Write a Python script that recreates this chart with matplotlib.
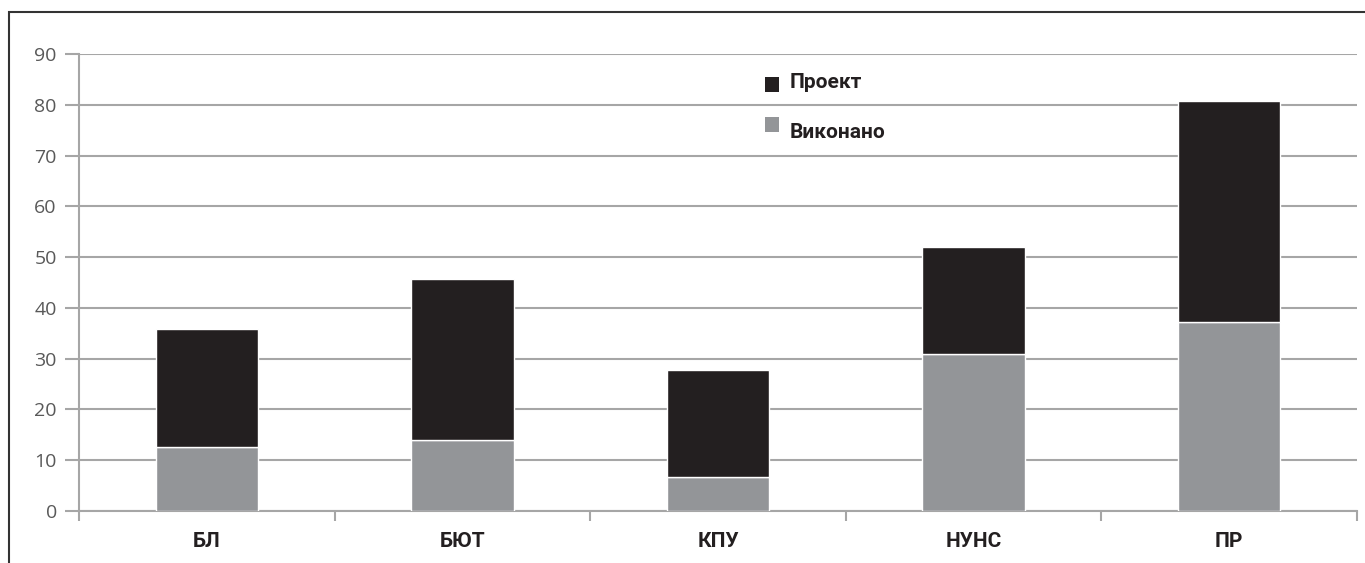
import matplotlib
matplotlib.use("Agg")
import matplotlib.pyplot as plt
from matplotlib.patches import Rectangle
import numpy as np

categories = ["БЛ", "БЮТ", "КПУ", "НУНС", "ПР"]
vykonano = [12.6, 14.0, 6.7, 30.9, 37.3]
proekt = [23.2, 31.7, 21.1, 21.1, 43.5]
yticks = [0, 10, 20, 30, 40, 50, 60, 70, 80, 90]

BLACK = "#231f20"
GRAY = "#939598"
GRID = "#a6a6a6"
TICKCOL = "#595959"
cond = ["Roboto", "DejaVu Sans"]

fig = plt.figure(figsize=(13.65, 5.63), dpi=100)
ax = fig.add_axes([79/1365, 52/563, (1357-79)/1365, (511-54)/563])

x = np.arange(len(categories))
ax.bar(x, vykonano, width=0.4, color=GRAY, edgecolor="white", linewidth=1.0, zorder=3)
ax.bar(x, proekt, width=0.4, bottom=vykonano, color=BLACK, edgecolor="white", linewidth=1.0, zorder=3)

ax.set_xlim(-0.5, len(categories) - 0.5)
ax.set_ylim(0, 90)
ax.set_yticks(yticks)
ax.set_yticklabels([str(v) for v in yticks], family=["Open Sans", "DejaVu Sans"], fontsize=14, color=TICKCOL)
ax.yaxis.grid(True, color=GRID, linewidth=1.5, zorder=0)
ax.set_axisbelow(True)

ax.set_xticks(x)
ax.set_xticklabels(categories, family=cond, fontweight="bold", fontsize=15, color=BLACK)
ax.set_xticks(np.arange(-0.5, len(categories), 1.0), minor=True)
ax.tick_params(axis="x", which="major", length=0, pad=15)
ax.tick_params(axis="x", which="minor", length=7, width=1.5, color=GRID)
ax.tick_params(axis="y", which="major", length=10, width=1.5, color=GRID, pad=6)

for s in ["top", "right"]:
    ax.spines[s].set_visible(False)
for s in ["left", "bottom"]:
    ax.spines[s].set_color(GRID)
    ax.spines[s].set_linewidth(1.5)

# legend drawn manually
def fx(px):
    return px / 1365
def fy(py):
    return 1 - py / 563

fig.patches.append(Rectangle((fx(765), fy(92)), 14/1365, 15/563, transform=fig.transFigure,
                             facecolor=BLACK, edgecolor="none"))
fig.patches.append(Rectangle((fx(765), fy(132)), 14/1365, 15/563, transform=fig.transFigure,
                             facecolor=GRAY, edgecolor="none"))
fig.text(fx(790), fy(82), "Проект", family=cond, fontweight="bold", fontsize=15,
         color=BLACK, va="center", ha="left")
fig.text(fx(790), fy(133), "Виконано", family=cond, fontweight="bold", fontsize=15,
         color=BLACK, va="center", ha="left")

# frame
fig.patches.append(Rectangle((fx(9), fy(600)), 2.0, (600-12)/563, transform=fig.transFigure,
                             facecolor="none", edgecolor="#333333", linewidth=1.5))

fig.savefig("out.png", dpi=100)
